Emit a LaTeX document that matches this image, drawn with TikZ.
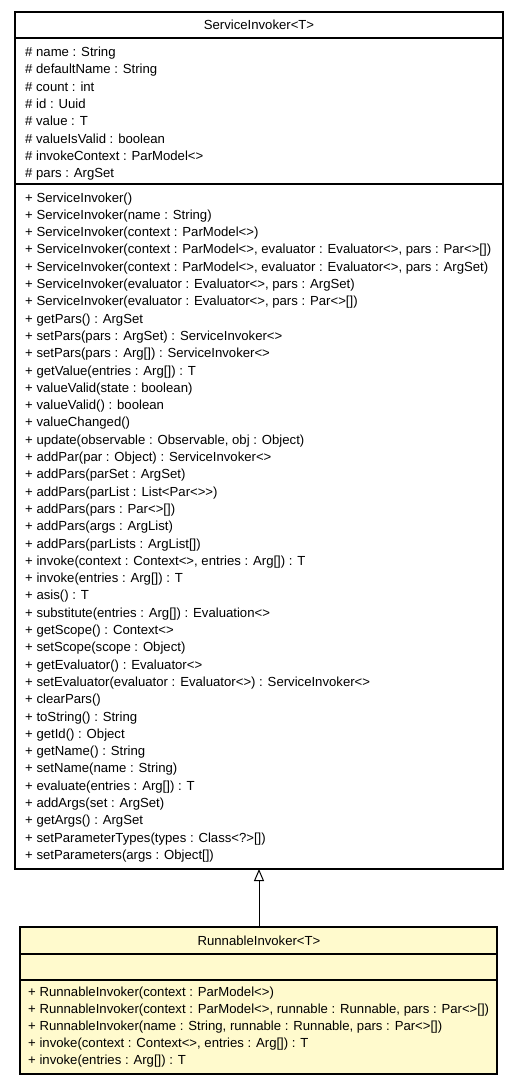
\documentclass[tikz,border=0pt]{standalone}
\usepackage{fontspec}
\setmainfont{Liberation Sans}
\usetikzlibrary{arrows.meta}
\definecolor{umlfill}{HTML}{FFFACD}
\tikzset{
  classbox/.style={draw=black, line width=1.1bp, anchor=north west, inner sep=0pt, outer sep=0pt},
  txt/.style={anchor=base west, inner sep=0pt, font=\fontsize{13.2}{15}\selectfont},
  ttl/.style={anchor=base, inner sep=0pt, font=\fontsize{13.2}{15}\selectfont},
  sep/.style={line width=1.1bp},
  gen/.style={line width=1bp, -{Triangle[open, length=12bp, width=10bp, line width=1bp]}}
}
\begin{document}
\begin{tikzpicture}[x=1bp,y=-1bp]
\useasboundingbox (0,0) rectangle (517,1085);
% ServiceInvoker box
\node[classbox, minimum width=488bp, minimum height=857bp] (svc) at (15,12) {};
\draw[sep] (15,38) -- (503,38);
\draw[sep] (15,184) -- (503,184);
\node[ttl] (svctitle) at (259,29.5) {ServiceInvoker<T>};
\foreach \t [count=\i] in {
 {\# name : String},
 {\# defaultName : String},
 {\# count : int},
 {\# id : Uuid},
 {\# value : T},
 {\# valueIsValid : boolean},
 {\# invokeContext : ParModel<>},
 {\# pars : ArgSet}}
 \node[txt] (a\i) at (25,{56.5+(\i-1)*17.3}) {\t};
\foreach \t [count=\i] in {
 {+ ServiceInvoker()},
 {+ ServiceInvoker(name : String)},
 {+ ServiceInvoker(context : ParModel<>)},
 {+ ServiceInvoker(context : ParModel<>, evaluator : Evaluator<>, pars : Par<>[])},
 {+ ServiceInvoker(context : ParModel<>, evaluator : Evaluator<>, pars : ArgSet)},
 {+ ServiceInvoker(evaluator : Evaluator<>, pars : ArgSet)},
 {+ ServiceInvoker(evaluator : Evaluator<>, pars : Par<>[])},
 {+ getPars() : ArgSet},
 {+ setPars(pars : ArgSet) : ServiceInvoker<>},
 {+ setPars(pars : Arg[]) : ServiceInvoker<>},
 {+ getValue(entries : Arg[]) : T},
 {+ valueValid(state : boolean)},
 {+ valueValid() : boolean},
 {+ valueChanged()},
 {+ update(observable : Observable, obj : Object)},
 {+ addPar(par : Object) : ServiceInvoker<>},
 {+ addPars(parSet : ArgSet)},
 {+ addPars(parList : List<Par<>{}>)},
 {+ addPars(pars : Par<>[])},
 {+ addPars(args : ArgList)},
 {+ addPars(parLists : ArgList[])},
 {+ invoke(context : Context<>, entries : Arg[]) : T},
 {+ invoke(entries : Arg[]) : T},
 {+ asis() : T},
 {+ substitute(entries : Arg[]) : Evaluation<>},
 {+ getScope() : Context<>},
 {+ setScope(scope : Object)},
 {+ getEvaluator() : Evaluator<>},
 {+ setEvaluator(evaluator : Evaluator<>) : ServiceInvoker<>},
 {+ clearPars()},
 {+ toString() : String},
 {+ getId() : Object},
 {+ getName() : String},
 {+ setName(name : String)},
 {+ evaluate(entries : Arg[]) : T},
 {+ addArgs(set : ArgSet)},
 {+ getArgs() : ArgSet},
 {+ setParameterTypes(types : Class<?>[])},
 {+ setParameters(args : Object[])}}
 \node[txt] (m\i) at (25,{202+(\i-1)*17.3}) {\t};
% RunnableInvoker box
\node[classbox, fill=umlfill, minimum width=477bp, minimum height=147bp] (run) at (20,927) {};
\draw[sep] (20,954) -- (497,954);
\draw[sep] (20,980) -- (497,980);
\node[ttl] (runtitle) at (259,945.5) {RunnableInvoker<T>};
\foreach \t [count=\i] in {
 {+ RunnableInvoker(context : ParModel<>)},
 {+ RunnableInvoker(context : ParModel<>, runnable : Runnable, pars : Par<>[])},
 {+ RunnableInvoker(name : String, runnable : Runnable, pars : Par<>[])},
 {+ invoke(context : Context<>, entries : Arg[]) : T},
 {+ invoke(entries : Arg[]) : T}}
 \node[txt] (r\i) at (28,{996.5+(\i-1)*17.1}) {\t};
% generalization
\draw[gen] (run.north -| svctitle) -- (svc.south -| svctitle);
\end{tikzpicture}
\end{document}
